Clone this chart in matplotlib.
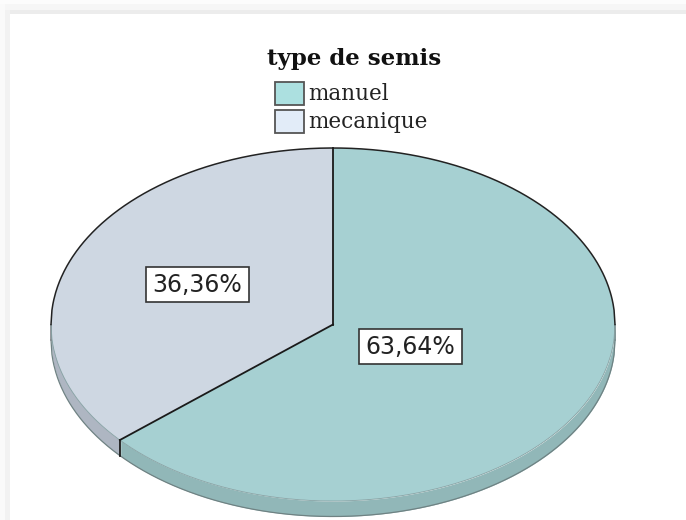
import numpy as np
import matplotlib
matplotlib.use('Agg')
import matplotlib.pyplot as plt
from matplotlib.patches import Rectangle

title = 'type de semis'
categories = ['manuel', 'mecanique']
values = [63.64, 36.36]
labels = ['63,64%', '36,36%']
colors = ['#a6d0d2', '#ced7e2']
side_colors = ['#91b7b8', '#aeb6c2']
legend_colors = ['#ace0e0', '#e2ecf8']

W, H = 686, 520
fig = plt.figure(figsize=(W / 100, H / 100), dpi=100, facecolor='white')

# page shadow along top and left
bg = fig.add_axes([0, 0, 1, 1])
bg.set_xlim(0, W)
bg.set_ylim(H, 0)
bg.axis('off')
bg.add_patch(Rectangle((0, 0), W, 4, fc='#fcfcfc', ec='none'))
bg.add_patch(Rectangle((0, 4), W, 6, fc='#f6f6f6', ec='none'))
bg.add_patch(Rectangle((10, 10), W, 3.5, fc='#ececec', ec='none'))
bg.add_patch(Rectangle((0, 4), 5, H, fc='#fafafa', ec='none'))
bg.add_patch(Rectangle((5, 10), 5, H, fc='#f2f2f2', ec='none'))

# pie, the axes box is the top ellipse
left, right, top, bottom = 51, 615, 148, 501
ax = fig.add_axes([left / W, 1 - bottom / H, (right - left) / W, (bottom - top) / H])
depth = 15.5 / ((bottom - top) / 2)

cut = np.radians(90 - values[0] * 3.6)
cut_x = np.cos(cut)
xs = np.linspace(-1, 1, 600)
edge = -np.sqrt(1 - xs ** 2)
ax.fill_between(xs, edge, edge - depth, where=xs >= cut_x, color=side_colors[0], lw=0, clip_on=False)
ax.fill_between(xs, edge, edge - depth, where=xs <= cut_x, color=side_colors[1], lw=0, clip_on=False)
ax.plot(xs, edge - depth, color='#6f8283', lw=0.9, clip_on=False)
ax.plot([-1, -1], [0, -depth], color='#777b80', lw=1.1, clip_on=False)
ax.plot([1, 1], [0, -depth], color='#6f8283', lw=1.1, clip_on=False)

wedges, _ = ax.pie(values, colors=colors, startangle=90, counterclock=False, radius=1,
                   wedgeprops={'linewidth': 0, 'clip_on': False})
ax.set_aspect('auto')
ax.set_xlim(-1, 1)
ax.set_ylim(-1, 1)
ax.axis('off')

# only the back of the rim and the cuts are drawn dark
ax.plot(xs, edge, color='#84a0a2', lw=0.6, clip_on=False)
ax.plot(xs, -edge, color='#222222', lw=1.1, clip_on=False)
ax.plot([0, 0], [0, 1], color='#1a1a1a', lw=1.3, clip_on=False)
ax.plot([0, cut_x], [0, np.sin(cut)], color='#1a1a1a', lw=1.3, clip_on=False)
ax.plot([cut_x, cut_x], [np.sin(cut), np.sin(cut) - depth], color='#1a1a1a', lw=1.3, clip_on=False)

over = fig.add_axes([0, 0, 1, 1], facecolor='none')
over.set_xlim(0, W)
over.set_ylim(H, 0)
over.axis('off')

for (x0, y0), text in zip([(359, 329), (146, 267)], labels):
    over.add_patch(Rectangle((x0, y0), 103, 35, fc='white', ec='#333333', lw=1.2))
    over.text(x0 + 51.5, y0 + 18, text, ha='center', va='center', fontsize=17,
              family='DejaVu Sans', color='#222222')

# legend
over.text(354, 59, title, ha='center', va='center', fontsize=16.5, family='DejaVu Serif',
          weight='bold', color='#111111')
for y, name, c in zip([82, 110], categories, legend_colors):
    over.add_patch(Rectangle((275, y), 29, 23, fc=c, ec='#555555', lw=1.3))
    over.text(308, y + 12, name, ha='left', va='center', fontsize=15.5,
              family='DejaVu Serif', color='#222222')

fig.savefig('out.png', dpi=100)
